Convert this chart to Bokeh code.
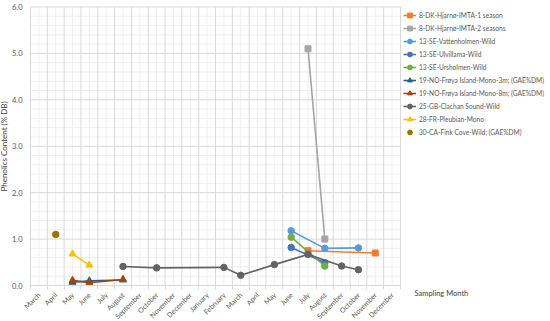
import math
from bokeh.plotting import figure
from bokeh.models import (FixedTicker, NumeralTickFormatter, Legend, LegendItem,
                          Label, Range1d)
from bokeh.embed import file_html
from bokeh.resources import INLINE

months = ["March", "April", "May", "June", "July", "August", "September",
          "October", "November", "December", "January", "February", "March",
          "April", "May", "June", "July", "August", "September", "October",
          "November", "December"]

# each series: indices into `months` and values (% DB)
dk1_idx = [16, 20]
dk1_val = [0.75, 0.70]
dk2_idx = [16, 17]
dk2_val = [5.10, 1.00]
vat_idx = [15, 17, 19]
vat_val = [1.18, 0.80, 0.81]
ulv_idx = [15, 17]
ulv_val = [0.82, 0.49]
urs_idx = [15, 17]
urs_val = [1.04, 0.42]
no3_idx = [2, 3, 5]
no3_val = [0.07, 0.10, 0.12]
no8_idx = [2, 3, 5]
no8_val = [0.11, 0.06, 0.13]
gb_idx = [5, 7, 11, 12, 14, 16, 18, 19]
gb_val = [0.41, 0.38, 0.39, 0.22, 0.45, 0.67, 0.42, 0.34]
fr_idx = [2, 3]
fr_val = [0.68, 0.44]
ca_idx = [1]
ca_val = [1.10]

y_ticks = [0, 1, 2, 3, 4, 5, 6]
y_minor = [k / 5 for k in range(31)]

series = [
    ("8-DK-Hjarnø-IMTA-1 season", dk1_idx, dk1_val, "#ED7D31", "square", True),
    ("8-DK-Hjarnø-IMTA-2 seasons", dk2_idx, dk2_val, "#A5A5A5", "square", True),
    ("13-SE-Vattenholmen-Wild", vat_idx, vat_val, "#5B9BD5", "circle", True),
    ("13-SE-Ulvillama-Wild", ulv_idx, ulv_val, "#4472C4", "circle", True),
    ("13-SE-Ursholmen-Wild", urs_idx, urs_val, "#70AD47", "circle", True),
    ("19-NO-Frøya Island-Mono-3m; (GAE%DM)", no3_idx, no3_val, "#255E91", "triangle", True),
    ("19-NO-Frøya Island-Mono-8m; (GAE%DM)", no8_idx, no8_val, "#9E480E", "triangle", True),
    ("25-GB-Clachan Sound-Wild", gb_idx, gb_val, "#636363", "circle", True),
    ("28-FR-Pleubian-Mono", fr_idx, fr_val, "#FFC000", "triangle", True),
    ("30-CA-Fink Cove-Wild; (GAE%DM)", ca_idx, ca_val, "#997300", "circle", False),
]

FONT = "Lato"
TXT = "#595959"

# layout in canvas pixels
W, H = 550, 321
PLOT_LEFT, PLOT_RIGHT = 30, 400
Y0_PX, YTOP_PX = 285, 6.5
n = len(months)
ymax = y_ticks[-1]
pxx = (PLOT_RIGHT - PLOT_LEFT) / n
pxy = (Y0_PX - YTOP_PX) / ymax

p = figure(width=W, height=H, output_backend="svg", toolbar_location=None,
           x_range=Range1d(-PLOT_LEFT / pxx, (W - PLOT_LEFT) / pxx),
           y_range=Range1d(-(H - Y0_PX) / pxy, ymax + YTOP_PX / pxy),
           min_border_left=0, min_border_right=0, min_border_top=0,
           min_border_bottom=0)
p.outline_line_color = None
p.xgrid.visible = False
p.ygrid.visible = False

centers = [i + 0.5 for i in range(n)]
bounds = list(range(n + 1))

# grid lines limited to the plotting area
hmin = [v for v in y_minor if v not in y_ticks]
p.segment(x0=[0] * len(hmin), y0=hmin, x1=[n] * len(hmin), y1=hmin,
          line_color="#EFEFEF", line_width=1, level="underlay")
p.segment(x0=centers, y0=[0] * n, x1=centers, y1=[ymax] * n,
          line_color="#EFEFEF", line_width=1, level="underlay")
p.segment(x0=[0] * len(y_ticks), y0=y_ticks, x1=[n] * len(y_ticks), y1=y_ticks,
          line_color="#D9D9D9", line_width=1, level="underlay")
p.segment(x0=bounds, y0=[0] * len(bounds), x1=bounds, y1=[ymax] * len(bounds),
          line_color="#D9D9D9", line_width=1, level="underlay")

xa = p.xaxis[0]
xa.fixed_location = 0
xa.bounds = (0, n)
xa.ticker = FixedTicker(ticks=centers, minor_ticks=bounds)
xa.major_label_overrides = {c: m for c, m in zip(centers, months)}
xa.major_label_orientation = math.pi / 4
xa.major_tick_line_color = None
xa.minor_tick_line_color = "#D9D9D9"
xa.minor_tick_out = 4
xa.minor_tick_in = 0
xa.axis_line_color = "#D9D9D9"
xa.major_label_text_font = FONT
xa.major_label_text_font_size = "7px"
xa.major_label_text_color = TXT
xa.major_label_standoff = 2

ya = p.yaxis[0]
ya.fixed_location = 0
ya.bounds = (0, ymax)
ya.ticker = FixedTicker(ticks=y_ticks)
ya.formatter = NumeralTickFormatter(format="0.0")
ya.axis_line_color = None
ya.major_tick_line_color = None
ya.minor_tick_line_color = None
ya.major_label_text_font = FONT
ya.major_label_text_font_size = "7.5px"
ya.major_label_text_color = TXT
ya.major_label_standoff = 2
ya.axis_label = "Phenolics Content (% DB)"
ya.axis_label_text_font = FONT
ya.axis_label_text_font_size = "8px"
ya.axis_label_text_font_style = "normal"
ya.axis_label_text_color = "#404040"
ya.axis_label_standoff = 0

items = []
for name, idx, vals, col, mk, has_line in series:
    xs = [i + 0.5 for i in idx]
    rs = []
    if has_line:
        rs.append(p.line(xs, vals, line_color=col, line_width=1.6))
    sz = 6.5 if mk == "circle" else (6 if mk == "square" else 7)
    rs.append(p.scatter(xs, vals, marker=mk, size=sz, fill_color=col, line_color=col))
    items.append(LegendItem(label=name, renderers=rs))

legend = Legend(items=items, location=(403, H - 138), padding=0,
                margin=0, spacing=1, glyph_width=13, glyph_height=12,
                label_height=12, label_standoff=3,
                label_text_font=FONT,
                label_text_font_size="6.6px", label_text_color=TXT,
                border_line_color=None, background_fill_alpha=0)
p.add_layout(legend, "center")

p.add_layout(Label(x=414, y=H - 293, x_units="screen", y_units="screen",
                   text="Sampling Month", text_font=FONT, text_font_size="7.5px",
                   text_color="#404040", text_baseline="middle"))

open("out.html", "w").write(file_html(p, INLINE))
